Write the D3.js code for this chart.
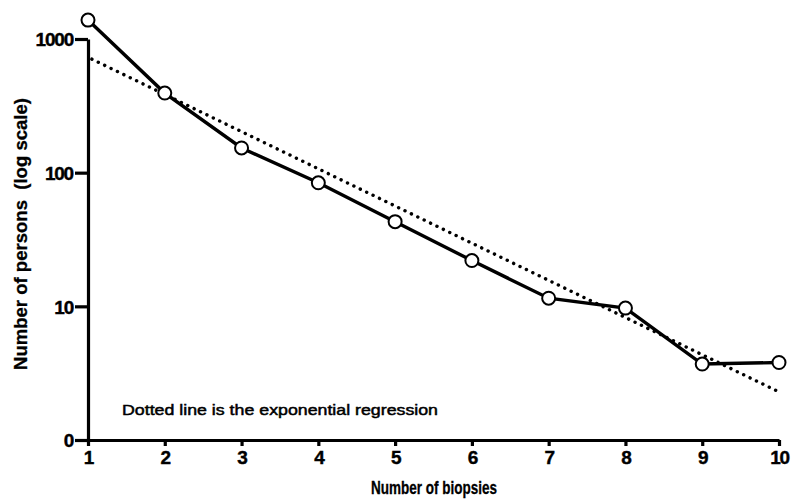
<!DOCTYPE html>
<html>
<head>
<meta charset="utf-8">
<script src="https://cdn.jsdelivr.net/npm/d3@7"></script>
<style>
  body { margin: 0; background: #fff; }
  text { font-family: "Liberation Sans", Arial, sans-serif; fill: #000; }
</style>
</head>
<body>
<svg id="chart" width="791" height="499"></svg>
<script>
// data
var biopsies = [1, 2, 3, 4, 5, 6, 7, 8, 9, 10];
var persons = [1385, 394, 153, 84, 43, 22, 11.5, 9.7, 3.7, 3.8];
// exponential regression, end points (straight on log axis)
var regX = [1.05, 10];
var regY = [707, 2.29];
var yTickVals = [1, 10, 100, 1000];
var yTickLabels = ["0", "10", "100", "1000"];

var svg = d3.select("#chart");

var x = d3.scaleLinear().domain([1, 10]).range([88, 779]);
var y = d3.scaleLog().domain([1, 1000]).range([440, 39]);

// y axis
var yAxis = svg.append("g")
    .attr("transform", "translate(88,0)")
    .call(d3.axisLeft(y)
        .tickValues(yTickVals)
        .tickFormat(function(d, i) { return yTickLabels[i]; })
        .tickSize(13)
        .tickPadding(2)
        .tickSizeOuter(0));

// x axis
var xAxis = svg.append("g")
    .attr("transform", "translate(0,440)")
    .call(d3.axisBottom(x)
        .tickValues(biopsies)
        .tickFormat(d3.format("d"))
        .tickSize(6)
        .tickPadding(5)
        .tickSizeOuter(0));

svg.selectAll(".domain").attr("stroke", "#000").attr("stroke-width", 3.2);
svg.selectAll(".tick line").attr("stroke", "#000").attr("stroke-width", 3.2);
svg.selectAll(".tick text")
    .attr("font-family", "Liberation Sans, Arial, sans-serif")
    .attr("font-size", 19)
    .attr("font-weight", "bold")
    .attr("letter-spacing", "-1.2px")
    .attr("stroke", "#000")
    .attr("stroke-width", 0.4)
    .attr("fill", "#000");
yAxis.selectAll(".tick text").attr("dy", "0.36em");

// regression (dotted)
var reg = regX.map(function(d, i) { return [d, regY[i]]; });
svg.append("path")
    .datum(reg)
    .attr("fill", "none")
    .attr("stroke", "#000")
    .attr("stroke-width", 3.4)
    .attr("stroke-linecap", "round")
    .attr("stroke-dasharray", "0.1 7")
    .attr("d", d3.line()
        .x(function(d) { return x(d[0]); })
        .y(function(d) { return y(d[1]); }));

// observed line
var pts = biopsies.map(function(d, i) { return [d, persons[i]]; });
svg.append("path")
    .datum(pts)
    .attr("fill", "none")
    .attr("stroke", "#000")
    .attr("stroke-width", 3.4)
    .attr("d", d3.line()
        .x(function(d) { return x(d[0]); })
        .y(function(d) { return y(d[1]); }));

svg.selectAll("circle")
    .data(pts)
    .enter().append("circle")
    .attr("cx", function(d) { return x(d[0]); })
    .attr("cy", function(d) { return y(d[1]); })
    .attr("r", 6.5)
    .attr("fill", "#fff")
    .attr("stroke", "#000")
    .attr("stroke-width", 2);

// titles
svg.append("text")
    .attr("x", 434)
    .attr("y", 494)
    .attr("text-anchor", "middle")
    .attr("font-size", 18)
    .attr("font-weight", "bold")
    .attr("stroke", "#000")
    .attr("stroke-width", 0.3)
    .attr("textLength", 126)
    .attr("lengthAdjust", "spacingAndGlyphs")
    .text("Number of biopsies");

svg.append("text")
    .attr("transform", "translate(27,234) rotate(-90)")
    .attr("text-anchor", "middle")
    .attr("font-size", 19)
    .attr("font-weight", "bold")
    .attr("stroke", "#000")
    .attr("stroke-width", 0.3)
    .attr("textLength", 272)
    .attr("lengthAdjust", "spacingAndGlyphs")
    .attr("xml:space", "preserve")
    .text("Number of persons  (log scale)");

svg.append("text")
    .attr("x", 122)
    .attr("y", 415)
    .attr("font-size", 15.5)
    .attr("stroke", "#000")
    .attr("stroke-width", 0.5)
    .attr("textLength", 316)
    .attr("lengthAdjust", "spacingAndGlyphs")
    .text("Dotted line is the exponential regression");
</script>
</body>
</html>
